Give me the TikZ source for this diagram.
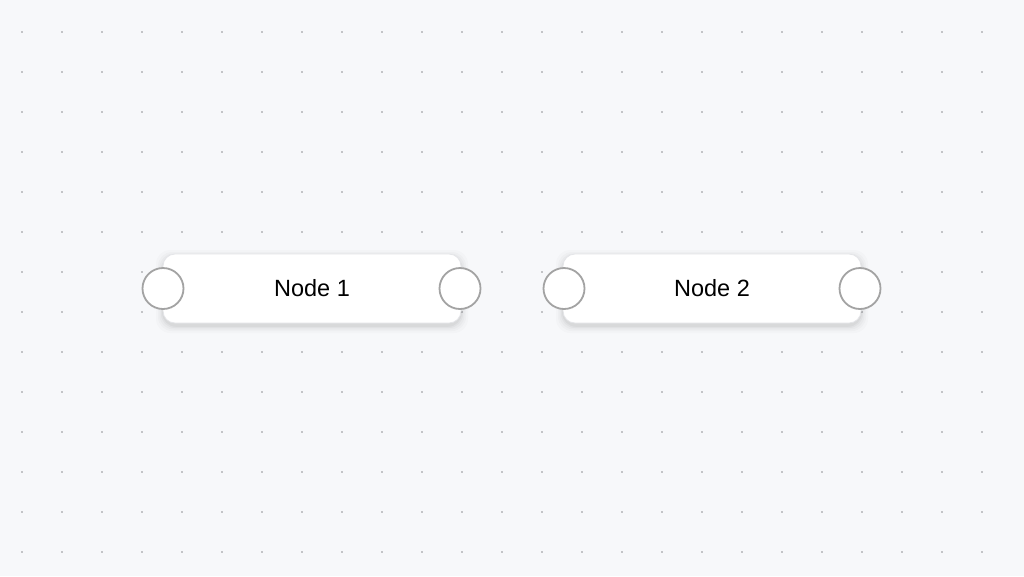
\documentclass[tikz,border=0pt]{standalone}
\usepackage{fontspec}
\setmainfont{Liberation Sans}
\usepackage{xcolor}
\usepackage{tikz}
\usetikzlibrary{positioning, calc}

\definecolor{canvasbg}{HTML}{F7F8FA}
\definecolor{griddot}{HTML}{8E9094}
\definecolor{boxline}{HTML}{E4E5E8}
\definecolor{portline}{HTML}{A3A3A3}

\begin{document}
\begin{tikzpicture}[
        x=1pt, y=-1pt,
        flownode/.style={rectangle, rounded corners=12pt, draw=boxline, line width=0.8pt, fill=white,
                         minimum width=298pt, minimum height=69pt, inner sep=0pt,
                         font=\fontsize{23.5}{28}\selectfont, align=center},
        port/.style={circle, draw=portline, line width=1.8pt, fill=white, minimum size=41pt, inner sep=0pt},
        griddot/.style={fill=griddot}
    ]

    % ==========================================
    % 1. CANVAS
    % ==========================================
    \fill[canvasbg] (0,0) rectangle (1024,576);
    \useasboundingbox (0,0) rectangle (1024,576);

    \foreach \gx in {22,62,...,1002}
        \foreach \gy in {32,72,...,552}
            \fill[griddot] (\gx,\gy) circle (0.8);

    % ==========================================
    % 2. SHADOWS
    % ==========================================
    \foreach \cx in {312,712} {
        \foreach \d/\op in {7/0.015,5/0.02,3.5/0.025,2/0.03,0.8/0.035} {
            \fill[black, opacity=\op, rounded corners=14pt]
                (\cx-149-\d,254+3-\d) rectangle (\cx+149+\d,323+3+\d);
        }
    }

    % ==========================================
    % 3. NODES
    % ==========================================
    \node[flownode] (node1) at (312, 288.5) {Node 1};
    \node[flownode] (node2) at (712, 288.5) {Node 2};

    % ==========================================
    % 4. PORTS
    % ==========================================
    \node[port] (node1in)  at (163, 288.5) {};
    \node[port] (node1out) at (460, 288.5) {};
    \node[port] (node2in)  at (564, 288.5) {};
    \node[port] (node2out) at (860, 288.5) {};

\end{tikzpicture}
\end{document}
